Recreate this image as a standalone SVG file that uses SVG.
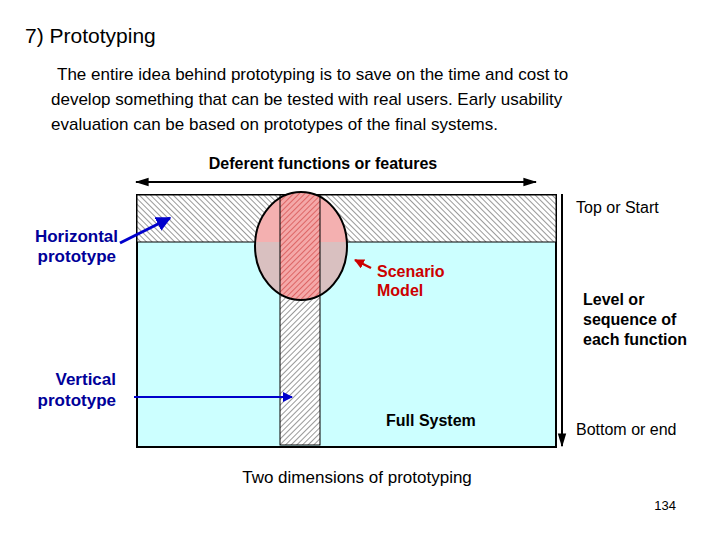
<svg xmlns="http://www.w3.org/2000/svg" width="720" height="540" viewBox="0 0 720 540">
<style>
text{font-family:"Liberation Sans",Arial,sans-serif}
.b{font-weight:bold}
.blue{fill:#000099;font-weight:bold;font-size:17px}
</style>
<defs>
<pattern id="h" width="4" height="4" patternUnits="userSpaceOnUse" patternTransform="rotate(-45)">
<rect width="4" height="4" fill="#fff"/><line x1="0" y1="0" x2="0" y2="4" stroke="#000" stroke-width="0.8"/>
</pattern>
<pattern id="hv" width="4" height="4" patternUnits="userSpaceOnUse" patternTransform="rotate(45)">
<rect width="4" height="4" fill="#fff"/><line x1="0" y1="0" x2="0" y2="4" stroke="#000" stroke-width="0.8"/>
</pattern>
<pattern id="hr" width="4" height="4" patternUnits="userSpaceOnUse" patternTransform="rotate(45)">
<rect width="4" height="4" fill="#f4a8a8"/><line x1="0" y1="0" x2="0" y2="4" stroke="#b00" stroke-width="0.8"/>
</pattern>
<marker id="ak" viewBox="0 0 10 10" refX="9" refY="5" markerWidth="7" markerHeight="7" orient="auto-start-reverse"><path d="M0,2L10,5L0,8z" fill="#000"/></marker>
<marker id="ab" viewBox="0 0 10 10" refX="9" refY="5" markerWidth="5" markerHeight="5" orient="auto"><path d="M0,0L10,5L0,10z" fill="#0000cc"/></marker>
<marker id="ar" viewBox="0 0 10 10" refX="9" refY="5" markerWidth="4" markerHeight="4" orient="auto"><path d="M0,0L10,5L0,10z" fill="#c00"/></marker>
<clipPath id="ec"><ellipse cx="301" cy="246" rx="46" ry="54"/></clipPath>
</defs>
<text x="25" y="43" font-size="21">7) Prototyping</text>
<text font-size="17"><tspan x="57" y="80">The entire idea behind prototyping is to save on the time and cost to</tspan><tspan x="51" y="105">develop something that can be tested with real users. Early usability</tspan><tspan x="51" y="130">evaluation can be based on prototypes of the final systems.</tspan></text>
<g id="system">
<rect x="137" y="195" width="419" height="252" fill="#ccffff" stroke="#000" stroke-width="2"/>
<rect x="137" y="195" width="419" height="47" fill="url(#h)" stroke="#000"/>
<rect x="280" y="195" width="40" height="250" fill="url(#hv)" stroke="#000"/>
</g>
<g id="scenario">
<ellipse cx="301" cy="246" rx="46" ry="54" fill="#d9c0c0"/>
<g clip-path="url(#ec)">
<rect x="200" y="180" width="200" height="62" fill="#f4b0b0"/>
<rect x="280" y="180" width="40" height="130" fill="url(#hr)" stroke="#000"/>
</g>
<ellipse cx="301" cy="246" rx="46" ry="54" fill="none" stroke="#000" stroke-width="2"/>
<text x="377" y="277" class="b" font-size="16" fill="#cc0000">Scenario</text>
<text x="377" y="296" class="b" font-size="16" fill="#cc0000">Model</text>
</g>
<g id="labels">
<text x="323" y="169" class="b" font-size="16" text-anchor="middle">Deferent functions or features</text>
<text x="576" y="213" font-size="16">Top or Start</text>
<text x="118" y="242" class="blue" text-anchor="end">Horizontal</text>
<text x="116" y="262" class="blue" text-anchor="end">prototype</text>
<text x="116" y="385" class="blue" text-anchor="end">Vertical</text>
<text x="116" y="406" class="blue" text-anchor="end">prototype</text>
<text x="583" y="305" class="b" font-size="16">Level or</text>
<text x="583" y="325" class="b" font-size="16">sequence of</text>
<text x="583" y="345" class="b" font-size="16">each function</text>
<text x="386" y="426" class="b" font-size="16">Full System</text>
<text x="576" y="435" font-size="16">Bottom or end</text>
<text x="357" y="483" font-size="17" text-anchor="middle">Two dimensions of prototyping</text>
<text x="676" y="510" font-size="13" text-anchor="end">134</text>
</g>
<g id="connectors">
<line x1="136" y1="182" x2="536" y2="182" stroke="#000" stroke-width="2" marker-start="url(#ak)" marker-end="url(#ak)"/>
<line x1="562" y1="194" x2="562" y2="446" stroke="#000" stroke-width="2" marker-end="url(#ak)"/>
<line x1="120" y1="243" x2="170" y2="218" stroke="#0000cc" stroke-width="3" marker-end="url(#ab)"/>
<line x1="134" y1="397" x2="292" y2="397" stroke="#0000cc" stroke-width="2" marker-end="url(#ab)"/>
<line x1="371" y1="268" x2="355" y2="260" stroke="#c00" stroke-width="2.5" marker-end="url(#ar)"/>
</g>
</svg>
